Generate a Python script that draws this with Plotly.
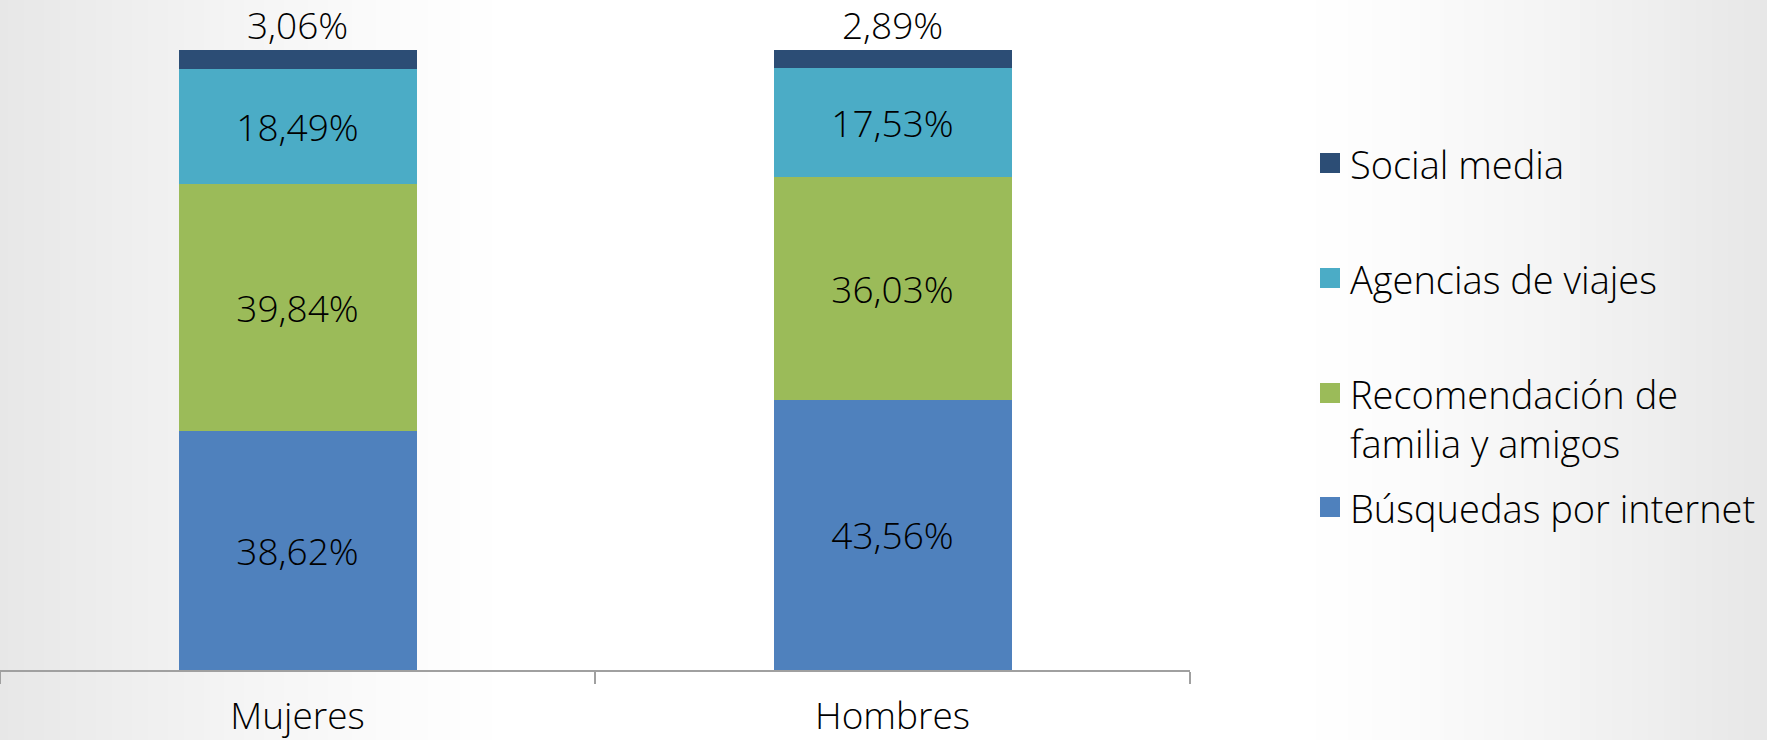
import plotly.graph_objects as go

# Categories and shares (%) by source of information
categories = ["Mujeres", "Hombres"]
series_names = [
    "Búsquedas por internet",
    "Recomendación de familia y amigos",
    "Agencias de viajes",
    "Social media",
]
busquedas = [38.62, 43.56]
recomendacion = [39.84, 36.03]
agencias = [18.49, 17.53]
social = [3.06, 2.89]

legend_labels = [
    "Búsquedas por internet",
    "Recomendación de<br>familia y amigos",
    "Agencias de viajes",
    "Social media",
]
colors = ["#4f81bd", "#9bbb59", "#4bacc6", "#2c4d75"]
values = [busquedas, recomendacion, agencias, social]

W, H = 1767, 740
L, R, T, B = 0, 577, 50, 70
PW, PH = W - L - R, H - T - B
FONT = "Open Sans"
FS = 37
WEIGHT = 300


def fmt(v):
    return f"{v:.2f}".replace(".", ",") + "%"


def px_x(px):
    return (px - L) / PW


def px_y(py):
    return (H - B - py) / PH


totals = [sum(v[ci] for v in values) for ci in range(len(categories))]
y_top = max(totals)

fig = go.Figure()
last = len(values) - 1
for i, (name, vals, col) in enumerate(zip(series_names, values, colors)):
    fig.add_trace(go.Bar(
        x=categories,
        y=vals,
        name=name,
        marker=dict(color=col, line=dict(width=0)),
        text=[fmt(v) for v in vals] if i != last else None,
        textposition="inside",
        insidetextanchor="middle",
        textfont=dict(family=FONT, size=FS, color="#000000", weight=WEIGHT),
        constraintext="none",
        showlegend=False,
        hoverinfo="skip",
    ))

annotations = []
# top-segment labels sit just above each stack
for ci, cat in enumerate(categories):
    annotations.append(dict(
        x=cat, y=totals[ci], xref="x", yref="y",
        text=fmt(social[ci]), showarrow=False,
        yanchor="bottom", yshift=-2,
        font=dict(family=FONT, size=FS, color="#000000", weight=WEIGHT),
    ))

shapes = []
# soft grey-to-white background shading toward the sides
step = 4
for x0 in range(0, W, step):
    xc = x0 + step / 2
    if xc < 520:
        t = 1 - xc / 520
    elif xc > 1290:
        t = (xc - 1290) / (W - 1290)
    else:
        continue
    t = t ** 1.3
    g = round(255 - t * (255 - 231))
    shapes.append(dict(
        type="rect", xref="paper", yref="paper", layer="below",
        x0=px_x(x0), x1=px_x(x0 + step), y0=px_y(H), y1=px_y(0),
        fillcolor=f"rgb({g},{g},{g})", line=dict(width=0),
    ))

# legend swatches and labels
legend_rows = [507, 393, 278, 163]
for lab, col, yc in zip(legend_labels, colors, legend_rows):
    shapes.append(dict(
        type="rect", xref="paper", yref="paper",
        x0=px_x(1320), x1=px_x(1340), y0=px_y(yc + 10), y1=px_y(yc - 10),
        fillcolor=col, line=dict(width=0),
    ))
    annotations.append(dict(
        xref="paper", yref="paper", x=px_x(1348), y=px_y(yc - 27),
        xanchor="left", yanchor="top", align="left",
        text=lab, showarrow=False,
        font=dict(family=FONT, size=38, color="#000000", weight=WEIGHT),
    ))

fig.update_layout(
    width=W, height=H,
    margin=dict(l=L, r=R, t=T, b=B),
    barmode="stack",
    bargap=0.6,
    paper_bgcolor="#ffffff",
    plot_bgcolor="rgba(0,0,0,0)",
    shapes=shapes,
    annotations=annotations,
    showlegend=False,
    xaxis=dict(
        showline=True, linecolor="#a0a0a0", linewidth=2,
        ticks="outside", tickson="boundaries", ticklen=12,
        tickcolor="#a0a0a0", tickwidth=2,
        ticklabelstandoff=13,
        tickfont=dict(family=FONT, size=FS, color="#000000", weight=WEIGHT),
        showgrid=False, zeroline=False,
    ),
    yaxis=dict(
        range=[0, y_top], visible=False, showgrid=False, zeroline=False,
    ),
)

fig.write_html("out.html")
